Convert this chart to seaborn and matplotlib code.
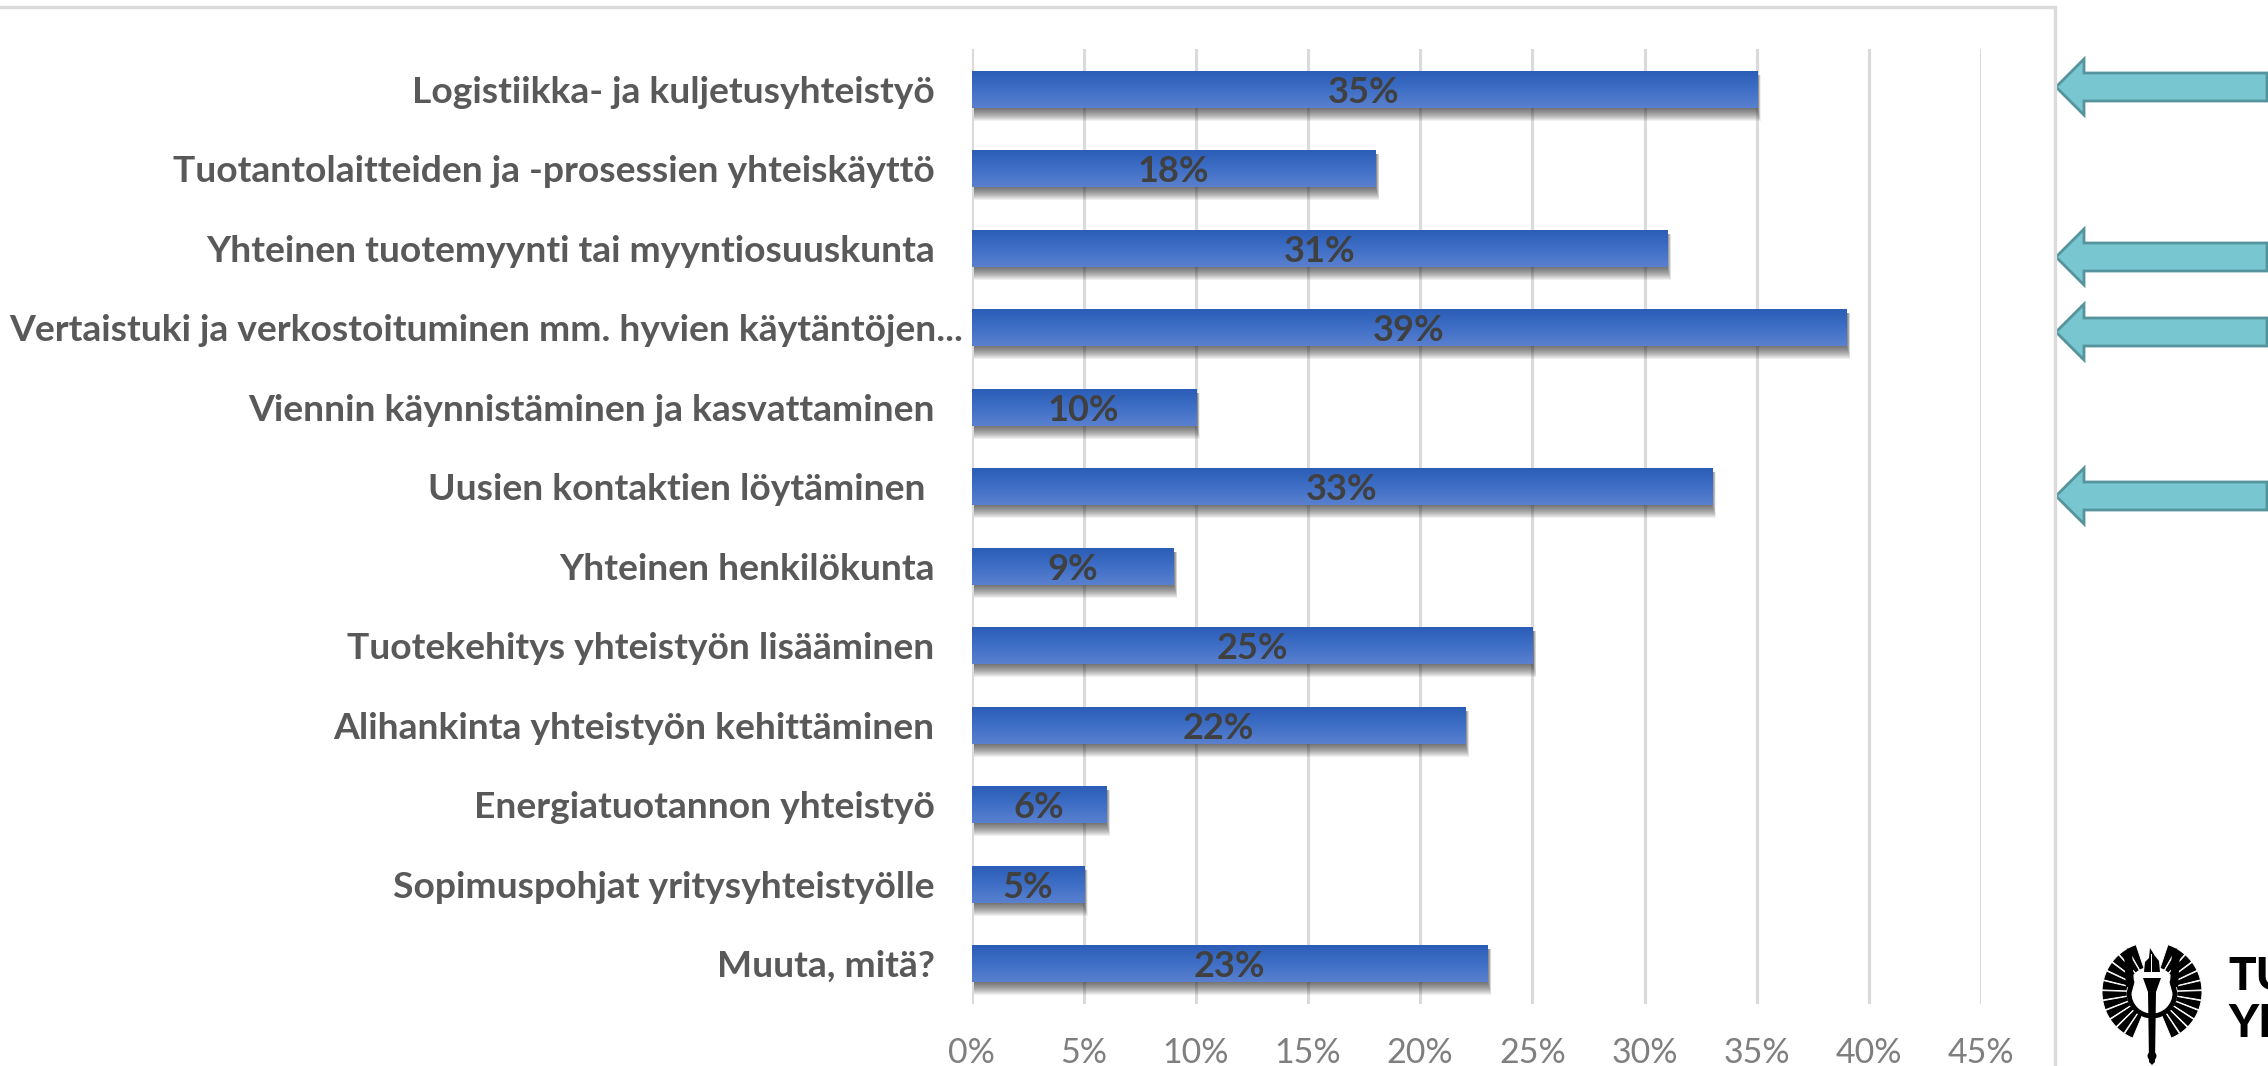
import numpy as np
import pandas as pd
import matplotlib
matplotlib.use("Agg")
import matplotlib.pyplot as plt
import seaborn as sns
from matplotlib.patches import Polygon, Rectangle, Wedge, Circle, Arc
from matplotlib.transforms import ScaledTranslation

categories = ["Logistiikka- ja kuljetusyhteistyö",
              "Tuotantolaitteiden ja -prosessien yhteiskäyttö",
              "Yhteinen tuotemyynti tai myyntiosuuskunta",
              "Vertaistuki ja verkostoituminen mm. hyvien käytäntöjen...",
              "Viennin käynnistäminen ja kasvattaminen",
              "Uusien kontaktien löytäminen ",
              "Yhteinen henkilökunta",
              "Tuotekehitys yhteistyön lisääminen",
              "Alihankinta yhteistyön kehittäminen",
              "Energiatuotannon yhteistyö",
              "Sopimuspohjat yritysyhteistyölle",
              "Muuta, mitä?"]
shares = [35, 18, 31, 39, 10, 33, 9, 25, 22, 6, 5, 23]
x_ticks = [0, 5, 10, 15, 20, 25, 30, 35, 40, 45]
arrow_rows_px = [87, 257, 332, 496]

W, H = 2268, 1066
sns.set_theme(style="white")
plt.rcParams["font.family"] = ["Lato", "DejaVu Sans"]

fig = plt.figure(figsize=(W / 100, H / 100), dpi=100)
# overlay in pixel coords for the frame, arrows and logo
bg = fig.add_axes([0, 0, 1, 1])
bg.set_xlim(0, W)
bg.set_ylim(H, 0)
bg.axis("off")

ax = fig.add_axes([971.5 / W, 1 - 1003.5 / H, (1981 - 971.5) / W, (1003.5 - 49.5) / H])
ax.patch.set_alpha(0)

df = pd.DataFrame({"category": categories, "share": shares})
sns.barplot(data=df, x="share", y="category", color="#3F6CC4", width=0.46, ax=ax, zorder=3,
            edgecolor="none", linewidth=0)

ax.set_xlim(0, 45)
ax.set_xlabel("")
ax.set_ylabel("")
ax.set_xticks(x_ticks)
ax.set_xticklabels([f"{t}%" for t in x_ticks], fontsize=24.5, color="#7F7F7F")
ax.tick_params(axis="x", length=0, pad=24)
ax.tick_params(axis="y", length=0, pad=26.5, labelsize=26.8, labelcolor="#595959")
for lab in ax.get_yticklabels():
    lab.set_fontweight("bold")
    if lab.get_text().endswith("..."):
        lab.set_transform(lab.get_transform() + ScaledTranslation(28 / 100, 0, fig.dpi_scale_trans))
sns.despine(ax=ax, left=True, bottom=True)
ax.xaxis.grid(True, color="#DADADA", lw=2.2, zorder=0)
ax.set_axisbelow(True)

# gradient fill and soft shadow on the bars seaborn drew
px_x = 45 / (1981 - 971.5)
px_y = 12 / (1003.5 - 49.5)
grad = np.linspace(0, 1, 64).reshape(-1, 1)
cmap = matplotlib.colors.LinearSegmentedColormap.from_list("bar", ["#5A80CF", "#3F6FC6", "#2C5DB7"])
for bar, v in zip(ax.patches, shares):
    x0, y0, w, h = bar.get_x(), bar.get_y(), bar.get_width(), bar.get_height()
    for i in range(1, 14):
        ax.add_patch(Rectangle((x0 + 2 * px_x, y0 + 4 * px_y), w + (i * 0.3 - 2) * px_x, h + (i - 4) * px_y,
                               fc="#202020", ec="none", alpha=0.065, zorder=2))
    img = ax.imshow(grad, extent=(x0, x0 + w, y0, y0 + h), cmap=cmap, aspect="auto", zorder=4)
    img.set_clip_path(bar)
    ax.text(v / 2, y0 + h / 2 + 0.035, f"{v}%", ha="center", va="center", fontsize=26,
            fontweight="bold", color="#404040", zorder=5)
ax.set_xlim(0, 45)
ax.set_ylim(11.5, -0.5)

# chart frame, cut by the picture edges
bg.plot([0, 2055, 2055], [6.5, 6.5, H], color="#DADADA", lw=2.4, solid_joinstyle="miter")

# arrows pointing at the highlighted rows
for yc in arrow_rows_px:
    pts = [(2056, yc), (2084, yc - 28), (2084, yc - 14), (2267, yc - 14),
           (2267, yc + 14), (2084, yc + 14), (2084, yc + 28)]
    bg.add_patch(Polygon(pts, closed=True, fc="#78C7D0", ec="#55939D", lw=2, joinstyle="miter"))

# university emblem
cx, cy = 2152, 992
for ang in np.linspace(-66, 62, 12):
    for side in (1, -1):
        a = ang if side == 1 else 180 - ang
        bg.add_patch(Wedge((cx, cy), 50, a - 5.4, a + 5.4, width=25, fc="black", ec="white", lw=0.7))
for side in (-1, 1):
    bg.add_patch(Polygon([(cx + side * 18, 984), (cx + side * 26, 988), (cx + side * 28, 953),
                          (cx + side * 24, 948), (cx + side * 20, 952)],
                         closed=True, fc="black", ec="none"))
bg.add_patch(Arc((cx, 993), 46, 46, theta1=0, theta2=180, color="black", lw=3.5))
bg.plot([cx - 23, cx - 20], [993, 982], color="black", lw=3.5)
bg.plot([cx + 23, cx + 20], [993, 982], color="black", lw=3.5)
bg.add_patch(Polygon([(cx - 9, 978), (cx + 9, 978), (cx + 4, 992), (cx + 3, 1062), (cx, 1065),
                      (cx - 3, 1062), (cx - 4, 992)], closed=True, fc="black", ec="none"))
bg.add_patch(Circle((cx, 1056), 4.5, fc="black", ec="none"))
bg.add_patch(Polygon([(cx - 8, 972), (cx - 7, 962), (cx - 3, 958), (cx - 2, 948), (cx + 3, 956),
                      (cx + 7, 961), (cx + 8, 972)], closed=True, fc="black", ec="none"))
bg.add_patch(Rectangle((cx - 1, 954), 1, 18, fc="white", ec="none"))
bg.text(2228, 990, "TU", fontsize=33, fontweight="black", color="black", va="baseline", ha="left")
bg.text(2228, 1037, "YL", fontsize=33, fontweight="black", color="black", va="baseline", ha="left")

fig.savefig("out.png", dpi=100, facecolor="white")
